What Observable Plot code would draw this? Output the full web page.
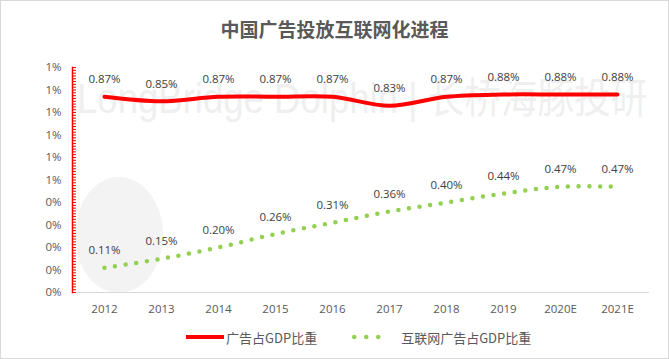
<!DOCTYPE html>
<html>
<head>
<meta charset="utf-8">
<script src="https://cdn.jsdelivr.net/npm/d3@7"></script>
<script src="https://cdn.jsdelivr.net/npm/@observablehq/plot@0.6"></script>
<style>
  html, body { margin: 0; padding: 0; background: #fff; }
  #wrap { position: relative; width: 669px; height: 359px; overflow: hidden; background: #fff;
          font-family: "Open Sans", "Noto Sans CJK SC", sans-serif; }
  #border { position: absolute; left: 0; top: 0; right: 0; bottom: 0; border: 1px solid #d9d9d9; pointer-events: none; }
  #title { position: absolute; left: 0; top: 16px; width: 669px; text-align: center; line-height: 26px;
           font-family: "Noto Sans CJK SC", sans-serif; font-weight: bold; font-size: 19px; color: #595959; }
  #logo { position: absolute; left: 75px; top: 177px; width: 88px; height: 116px; border-radius: 50%; background: #f3f3f3; }
  #wm { position: absolute; left: 0; top: 0; }
  #chart { position: absolute; left: 0; top: 0; }
  #legend { position: absolute; left: 186px; top: 328px; height: 18px; display: flex; align-items: center;
            font-family: "Noto Sans CJK SC", sans-serif; font-size: 13px; color: #595959; white-space: nowrap; }
  #legend .item { display: flex; align-items: center; }
  #legend svg { display: block; }
</style>
</head>
<body>
<div id="wrap">
  <div id="logo"></div>
  <svg id="wm" width="669" height="359">
    <text x="77" y="113" textLength="570" lengthAdjust="spacingAndGlyphs"
          font-family="Liberation Sans, Noto Sans CJK SC, sans-serif" font-size="42" fill="#efefef">LongBridge Dolphin | 长桥海豚投研</text>
  </svg>
  <div id="chart"></div>
  <div id="title"></div>
  <div id="legend"></div>
  <div id="border"></div>
</div>
<script>
const chartTitle = "中国广告投放互联网化进程";
const years = ["2012", "2013", "2014", "2015", "2016", "2017", "2018", "2019", "2020E", "2021E"];
const adShareOfGDP = [0.87, 0.85, 0.87, 0.87, 0.87, 0.83, 0.87, 0.88, 0.88, 0.88];
const onlineAdShareOfGDP = [0.11, 0.15, 0.20, 0.26, 0.31, 0.36, 0.40, 0.44, 0.47, 0.47];
const yTicks = [0, 0.1, 0.2, 0.3, 0.4, 0.5, 0.6, 0.7, 0.8, 0.9, 1.0];
const seriesNames = ["广告占GDP比重", "互联网广告占GDP比重"];
const seriesColors = ["#ff0000", "#92d050"];

const redData = years.map((year, i) => ({year, value: adShareOfGDP[i]}));
const greenData = years.map((year, i) => ({year, value: onlineAdShareOfGDP[i]}));
const minorTicks = d3.range(0, 81).map(i => i * 0.0125);

const chart = Plot.plot({
  width: 669,
  height: 359,
  marginLeft: 72,
  marginRight: 20,
  marginTop: 67,
  marginBottom: 67,
  style: {background: "transparent", fontFamily: "'Open Sans', 'Noto Sans CJK SC', sans-serif", color: "#595959"},
  x: {type: "point", domain: years, padding: 0.5, label: null},
  y: {domain: [0, 1], label: null},
  marks: [
    Plot.ruleY([0], {stroke: "#d9d9d9", strokeWidth: 1}),
    Plot.axisX({tickSize: 0, tickPadding: 12, fontSize: 11.5, fill: "#595959", label: null}),
    Plot.axisY({ticks: yTicks, tickSize: 0, tickPadding: 11, fontSize: 11.5, fill: "#595959",
                tickFormat: d => Math.round(d) + "%", label: null}),
    Plot.axisY({ticks: minorTicks, tickSize: 4, dx: 4, stroke: "#ff0000", strokeWidth: 1,
                tickFormat: () => "", label: null}),
    Plot.frame({anchor: "left", stroke: "#ff0000", strokeWidth: 1.5}),
    Plot.line(redData, {x: "year", y: "value", stroke: seriesColors[0], strokeWidth: 4, curve: "catmull-rom"}),
    Plot.line(greenData, {x: "year", y: "value", stroke: seriesColors[1], strokeWidth: 4.5,
                          strokeDasharray: "0 10.7", strokeLinecap: "round", curve: "catmull-rom"}),
    Plot.text(redData, {x: "year", y: "value", text: d => d.value.toFixed(2) + "%", dy: -17,
                        fontSize: 11.5, fill: "#404040"}),
    Plot.text(greenData, {x: "year", y: "value", text: d => d.value.toFixed(2) + "%", dy: -17,
                          fontSize: 11.5, fill: "#404040"})
  ]
});
document.getElementById("chart").appendChild(chart);
document.getElementById("title").textContent = chartTitle;

// legend
const legend = document.getElementById("legend");
function addItem(i, swatchWidth, gapAfter, marginRight) {
  const item = document.createElement("div");
  item.className = "item";
  item.style.marginRight = marginRight + "px";
  const ns = "http://www.w3.org/2000/svg";
  const svg = document.createElementNS(ns, "svg");
  svg.setAttribute("width", swatchWidth);
  svg.setAttribute("height", 8);
  svg.style.marginRight = gapAfter + "px";
  const line = document.createElementNS(ns, "line");
  line.setAttribute("x1", i === 0 ? 0 : 2.25);
  line.setAttribute("x2", i === 0 ? swatchWidth : swatchWidth - 2);
  line.setAttribute("y1", 4);
  line.setAttribute("y2", 4);
  line.setAttribute("stroke", seriesColors[i]);
  line.setAttribute("stroke-width", i === 0 ? 4 : 4.5);
  if (i === 1) {
    line.setAttribute("stroke-dasharray", "0 12");
    line.setAttribute("stroke-linecap", "round");
  }
  svg.appendChild(line);
  item.appendChild(svg);
  const span = document.createElement("span");
  span.textContent = seriesNames[i];
  item.appendChild(span);
  legend.appendChild(item);
}
addItem(0, 38, 2, 35);
addItem(1, 40, 9, 0);
</script>
</body>
</html>
